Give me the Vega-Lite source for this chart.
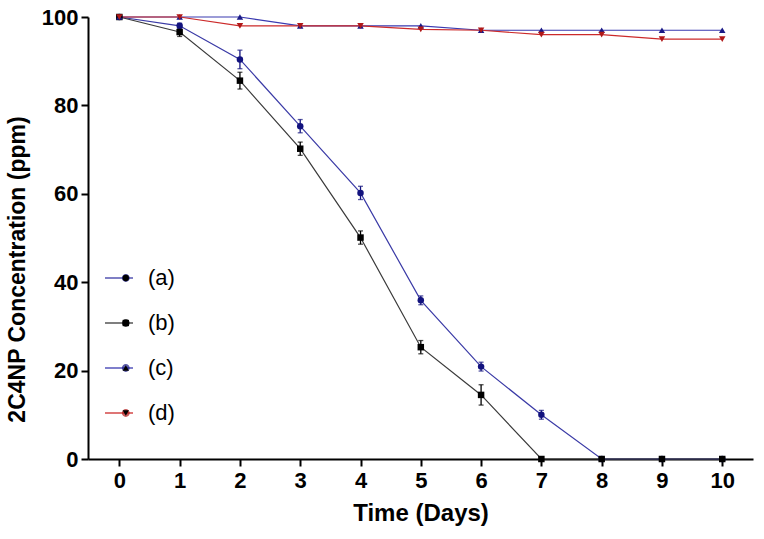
{
  "$schema": "https://vega.github.io/schema/vega-lite/v6.json",
  "width": 665,
  "height": 442,
  "autosize": "none",
  "padding": {"left": 88, "top": 17, "right": 11, "bottom": 80},
  "background": "white",
  "config": {
    "view": {"stroke": null},
    "font": "Liberation Sans",
    "axis": {
      "grid": false,
      "domainColor": "black",
      "domainWidth": 2,
      "tickColor": "black",
      "tickWidth": 2,
      "tickSize": 7,
      "labelFont": "Liberation Sans",
      "labelFontWeight": "bold",
      "labelFontSize": 22,
      "labelColor": "black",
      "titleFont": "Liberation Sans",
      "titleFontWeight": "bold",
      "titleFontSize": 23,
      "titleColor": "black"
    }
  },
  "data": {
    "values": [
      {"day": 0, "series": "(a)", "value": 100, "err": 0},
      {"day": 1, "series": "(a)", "value": 98, "err": 0.6},
      {"day": 2, "series": "(a)", "value": 90.4, "err": 2.1},
      {"day": 3, "series": "(a)", "value": 75.3, "err": 1.5},
      {"day": 4, "series": "(a)", "value": 60.2, "err": 1.5},
      {"day": 5, "series": "(a)", "value": 35.9, "err": 1},
      {"day": 6, "series": "(a)", "value": 20.9, "err": 1},
      {"day": 7, "series": "(a)", "value": 10, "err": 1},
      {"day": 8, "series": "(a)", "value": 0, "err": 0},
      {"day": 9, "series": "(a)", "value": 0, "err": 0},
      {"day": 10, "series": "(a)", "value": 0, "err": 0},
      {"day": 0, "series": "(b)", "value": 100, "err": 0},
      {"day": 1, "series": "(b)", "value": 96.6, "err": 1},
      {"day": 2, "series": "(b)", "value": 85.6, "err": 1.9},
      {"day": 3, "series": "(b)", "value": 70.2, "err": 1.5},
      {"day": 4, "series": "(b)", "value": 50.1, "err": 1.5},
      {"day": 5, "series": "(b)", "value": 25.3, "err": 1.5},
      {"day": 6, "series": "(b)", "value": 14.5, "err": 2.3},
      {"day": 7, "series": "(b)", "value": 0, "err": 0},
      {"day": 8, "series": "(b)", "value": 0, "err": 0},
      {"day": 9, "series": "(b)", "value": 0, "err": 0},
      {"day": 10, "series": "(b)", "value": 0, "err": 0},
      {"day": 0, "series": "(c)", "value": 100, "err": 0},
      {"day": 1, "series": "(c)", "value": 100, "err": 0},
      {"day": 2, "series": "(c)", "value": 100, "err": 0},
      {"day": 3, "series": "(c)", "value": 98, "err": 0},
      {"day": 4, "series": "(c)", "value": 98, "err": 0},
      {"day": 5, "series": "(c)", "value": 98, "err": 0},
      {"day": 6, "series": "(c)", "value": 97, "err": 0},
      {"day": 7, "series": "(c)", "value": 97, "err": 0},
      {"day": 8, "series": "(c)", "value": 97, "err": 0},
      {"day": 9, "series": "(c)", "value": 97, "err": 0},
      {"day": 10, "series": "(c)", "value": 97, "err": 0},
      {"day": 0, "series": "(d)", "value": 100, "err": 0},
      {"day": 1, "series": "(d)", "value": 100, "err": 0},
      {"day": 2, "series": "(d)", "value": 98, "err": 0},
      {"day": 3, "series": "(d)", "value": 98, "err": 0},
      {"day": 4, "series": "(d)", "value": 98, "err": 0},
      {"day": 5, "series": "(d)", "value": 97.2, "err": 0},
      {"day": 6, "series": "(d)", "value": 97, "err": 0},
      {"day": 7, "series": "(d)", "value": 96, "err": 0},
      {"day": 8, "series": "(d)", "value": 96, "err": 0},
      {"day": 9, "series": "(d)", "value": 95, "err": 0},
      {"day": 10, "series": "(d)", "value": 95, "err": 0}
    ]
  },
  "encoding": {
    "x": {
      "field": "day",
      "type": "quantitative",
      "scale": {"domain": [-0.52, 10.51], "nice": false, "zero": false},
      "axis": {"values": [0, 1, 2, 3, 4, 5, 6, 7, 8, 9, 10], "format": "d", "title": "Time (Days)", "labelPadding": 4, "titlePadding": 10, "titleFontSize": 24}
    },
    "y": {
      "field": "value",
      "type": "quantitative",
      "scale": {"domain": [0, 100], "nice": false},
      "axis": {"values": [0, 20, 40, 60, 80, 100], "title": "2C4NP Concentration (ppm)", "labelPadding": 3, "titlePadding": 12, "titleY": 252}
    }
  },
  "layer": [
    {
      "mark": {"type": "line", "strokeWidth": 1.2},
      "encoding": {
        "stroke": {
          "field": "series",
          "type": "nominal",
          "scale": {"domain": ["(a)", "(b)", "(c)", "(d)"], "range": ["#3a3aa6", "#3a3a3a", "#3a3ab0", "#cc2a2a"]},
          "legend": {
            "title": null,
            "orient": "none",
            "legendX": 20,
            "legendY": 250,
            "symbolType": "M-1.4,0H1.4",
            "symbolSize": 400,
            "symbolStrokeWidth": 1.3,
            "labelFont": "Liberation Sans",
            "labelFontSize": 22,
            "labelColor": "black",
            "labelOffset": 18,
            "rowPadding": 23,
            "padding": 0
          }
        }
      }
    },
    {
      "transform": [{"filter": "datum.err > 0"}],
      "mark": {"type": "errorbar", "ticks": true, "thickness": 1.3},
      "encoding": {
        "yError": {"field": "err"},
        "color": {"field": "series", "type": "nominal"}
      }
    },
    {
      "mark": {"type": "point", "filled": true, "opacity": 1, "size": 42},
      "encoding": {
        "color": {
          "field": "series",
          "type": "nominal",
          "scale": {"range": ["#12127e", "#000000", "#1a1a86", "#b01818"]},
          "legend": {
            "title": null,
            "orient": "none",
            "legendX": 26.8,
            "legendY": 250,
            "symbolSize": 40,
            "labelFontSize": 22,
            "labelExpr": "''",
            "labelOffset": 18,
            "rowPadding": 23,
            "padding": 0
          }
        },
        "shape": {
          "field": "series",
          "type": "nominal",
          "scale": {"range": ["circle", "square", "triangle-up", "triangle-down"]},
          "legend": {
            "title": null,
            "orient": "none",
            "legendX": 26.8,
            "legendY": 250,
            "symbolSize": 40,
            "labelFontSize": 22,
            "labelExpr": "''",
            "labelOffset": 18,
            "rowPadding": 23,
            "padding": 0
          }
        }
      }
    }
  ]
}
